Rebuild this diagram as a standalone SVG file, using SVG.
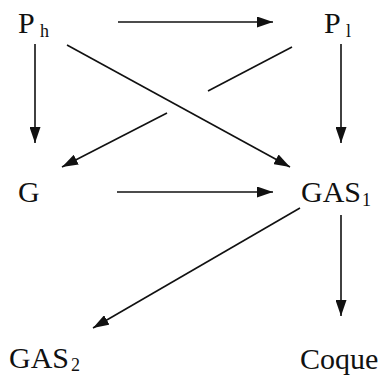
<svg xmlns="http://www.w3.org/2000/svg" width="384" height="381" viewBox="0 0 384 381">
<defs>
<style>
.t{font-family:"Liberation Serif","Times New Roman",serif;font-size:30px;fill:#111}
.s{font-family:"Liberation Serif","Times New Roman",serif;font-size:18px;fill:#111}
.e{stroke:#111;stroke-width:1.6;fill:none}
</style>
<marker id="ah" markerWidth="16" markerHeight="11" refX="16" refY="5.5" orient="auto" markerUnits="userSpaceOnUse">
<path d="M0,0 L16,5.5 L0,11 Z" fill="#111"/>
</marker>
</defs>
<rect width="384" height="381" fill="#fff"/>
<g id="connectors">
<line class="e" x1="118" y1="22" x2="273" y2="22" marker-end="url(#ah)"/>
<line class="e" x1="35" y1="44" x2="35" y2="143" marker-end="url(#ah)"/>
<line class="e" x1="341" y1="44" x2="341" y2="143" marker-end="url(#ah)"/>
<line class="e" x1="67" y1="45" x2="290" y2="167" marker-end="url(#ah)"/>
<line class="e" x1="292" y1="47" x2="208" y2="91"/>
<line class="e" x1="167" y1="113" x2="62" y2="167" marker-end="url(#ah)"/>
<line class="e" x1="117" y1="192" x2="273" y2="192" marker-end="url(#ah)"/>
<line class="e" x1="341" y1="215" x2="341" y2="316" marker-end="url(#ah)"/>
<line class="e" x1="300" y1="208" x2="93" y2="328" marker-end="url(#ah)"/>
</g>
<g id="Ph"><text class="t" x="18" y="33">P</text><text class="s" x="40" y="37">h</text></g>
<g id="Pl"><text class="t" x="324" y="33">P</text><text class="s" x="346" y="37">l</text></g>
<g id="G"><text class="t" x="18" y="202">G</text></g>
<g id="GAS1"><text class="t" x="301" y="202">GAS</text><text class="s" x="362" y="206">1</text></g>
<g id="GAS2"><text class="t" x="9" y="368">GAS</text><text class="s" x="71" y="371">2</text></g>
<g id="Coque"><text class="t" x="300" y="369">Coque</text></g>
</svg>
